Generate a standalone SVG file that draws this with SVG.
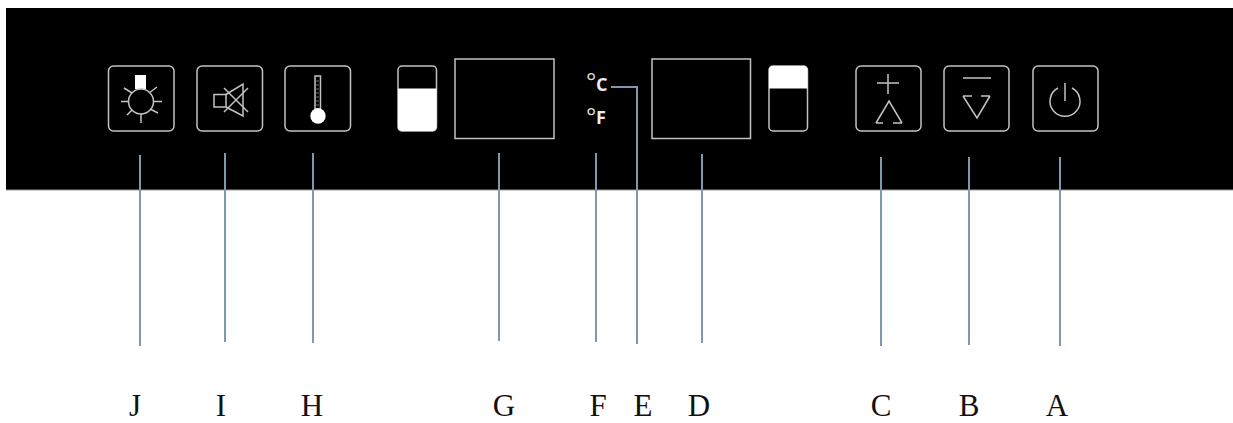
<svg xmlns="http://www.w3.org/2000/svg" width="1233" height="423" viewBox="0 0 1233 423">
<style>
.k{fill:none;stroke:#c2c2c2;stroke-width:1.5}
.w{fill:#fff}
.c{fill:none;stroke:#7f98b0;stroke-width:2}
.l{font-family:"Liberation Serif",serif;font-size:31px;fill:#111;text-anchor:middle}
.u{font-family:"Open Sans","Liberation Sans",sans-serif;font-weight:700;font-size:18px;fill:#eee}
.d{font-family:"Open Sans","Liberation Sans",sans-serif;font-weight:400;font-size:24px;fill:#ddd}
</style>
<rect x="0" y="0" width="1233" height="423" fill="#fff"/>
<rect id="panel" x="6" y="8" width="1227" height="182" fill="#000"/>
<path d="M6 190H1233" stroke="#9a9a9a" stroke-width="1"/>
<g id="J"><rect class="k" x="108.500" y="66" width="65.500" height="65" rx="5"/><rect class="w" x="135" y="75" width="11" height="14"/><circle class="k" cx="141" cy="101.500" r="12.500"/><path class="k" d="M121 101.500h7M154 101.500h8M141 114v9M124 88l8 5M157 87l-8 6M127 115l5-5M158 113l-8-4"/></g>
<g id="I"><rect class="k" x="197" y="66" width="65.500" height="65" rx="5"/><rect class="k" x="214" y="94.500" width="12" height="12.500"/><path class="k" d="M226 94.500L243 84V116L226 107M224 112L248 88M224 88L248 112"/></g>
<g id="H"><rect class="k" x="285" y="66" width="65.500" height="65" rx="5"/><rect class="k" x="315" y="76" width="5.500" height="33"/><path d="M316 81h3M316 85h3M316 89h3M316 93h3M316 97h3M316 101h3M316 105h3" stroke="#888" stroke-width=".8"/><circle class="w" cx="318" cy="116" r="7.700"/></g>
<g id="level-left"><rect class="k" x="398" y="66" width="38.500" height="65" rx="4"/><path class="w" d="M398 88.500H436.500V127a4 4 0 0 1-4 4H402a4 4 0 0 1-4-4Z"/></g>
<g id="G"><rect class="k" x="455" y="59" width="99" height="79.500"/></g>
<g id="F"><text class="d" x="586" y="90">°</text><text class="u" x="596" y="91">C</text><text class="d" x="586" y="125">°</text><text class="u" x="596" y="124">F</text></g>
<g id="D"><rect class="k" x="652" y="59" width="98.500" height="79.500"/></g>
<g id="level-right"><rect class="k" x="769" y="66" width="38.500" height="65" rx="4"/><path class="w" d="M769 88.500V70a4 4 0 0 1 4-4H803.500a4 4 0 0 1 4 4V88.500Z"/></g>
<g id="C"><rect class="k" x="856" y="66" width="65" height="65" rx="5"/><path class="k" d="M877 83H899M888 74V94M876 123L889 101L902 123M876 123H883M893 123H902"/></g>
<g id="B"><rect class="k" x="944" y="66" width="65" height="65" rx="5"/><path class="k" d="M963 78H991M963 96H972M981 96H990M963 96L977 118L990 96"/></g>
<g id="A"><rect class="k" x="1033" y="66" width="65" height="65" rx="5"/><path class="k" d="M1058 88A15 15 0 1 0 1072 88M1065 83V101"/></g>
<g id="connectors">
<path class="c" d="M140 155V346M225 153V342M313 153V343M499 153V341M596 153V342M702 154V343M881 157V346M969 157V345M1060 157V346M611 87H637V344"/>
</g>
<g id="labels">
<text class="l" x="135" y="416">J</text><text class="l" x="221" y="416">I</text><text class="l" x="312" y="416">H</text><text class="l" x="504" y="416">G</text><text class="l" x="598" y="416">F</text><text class="l" x="643" y="416">E</text><text class="l" x="699" y="416">D</text><text class="l" x="881" y="416">C</text><text class="l" x="969" y="416">B</text><text class="l" x="1057" y="416">A</text>
</g>
</svg>
